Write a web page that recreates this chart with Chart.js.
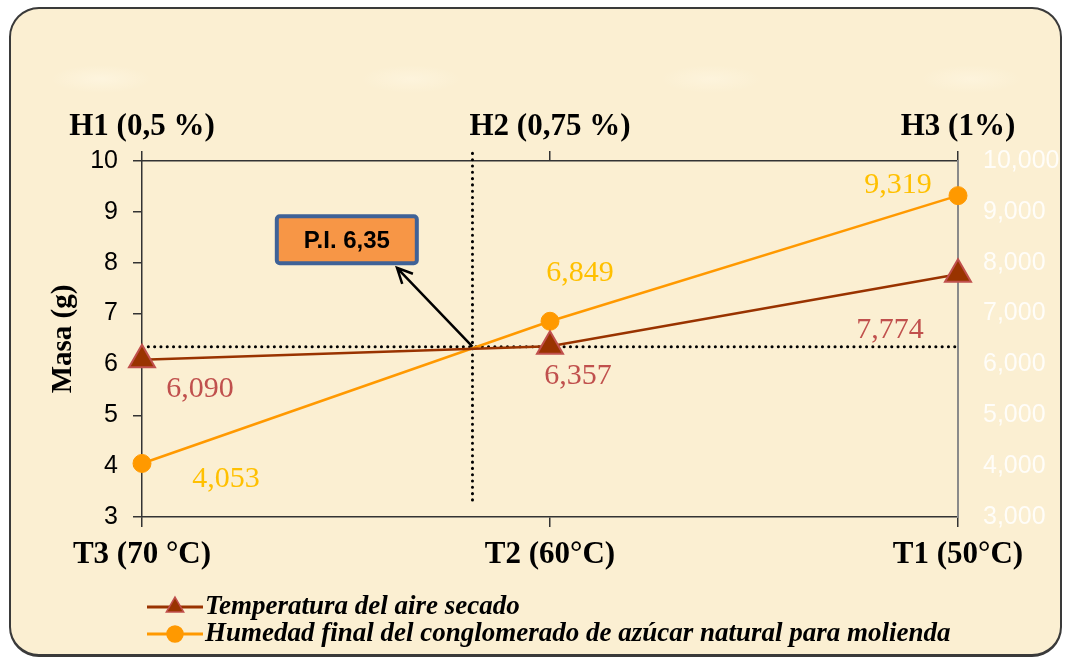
<!DOCTYPE html>
<html>
<head>
<meta charset="utf-8">
<script src="https://cdn.jsdelivr.net/npm/chart.js@4.4.1/dist/chart.umd.min.js"></script>
<style>
    html, body { margin: 0; padding: 0; background: #fff; }
    #wrap { position: relative; width: 1066px; height: 659px; }
    #frame {
        position: absolute; left: 9px; top: 7px; width: 1049px; height: 645px;
        border: 2px solid #3a3a3a; border-bottom-width: 3px; border-radius: 30px;
        background:
            radial-gradient(ellipse 50px 14px at 90px 70px, rgba(255,248,230,0.6), rgba(255,248,230,0)),
            radial-gradient(ellipse 50px 14px at 400px 70px, rgba(255,248,230,0.5), rgba(255,248,230,0)),
            radial-gradient(ellipse 50px 14px at 700px 70px, rgba(255,248,230,0.5), rgba(255,248,230,0)),
            radial-gradient(ellipse 50px 14px at 960px 70px, rgba(255,248,230,0.5), rgba(255,248,230,0)),
            #fbefd2;
    }
    #chartBox { position: absolute; left: 0; top: 0; width: 1066px; height: 659px; }
</style>
</head>
<body>
<div id="wrap">
    <div id="frame"></div>
    <div id="chartBox"><canvas id="grafico"></canvas></div>
</div>
<script>
// Datos del grafico
const categoriasTemp = ['T3 (70 °C)', 'T2 (60°C)', 'T1 (50°C)'];
const categoriasHum = ['H1 (0,5 %)', 'H2 (0,75 %)', 'H3 (1%)'];
const temperatura = [6.090, 6.357, 7.774];
const humedad = [4.053, 6.849, 9.319];
const masaMin = 3;
const masaMax = 10;
const puntoInterseccion = { x: 0.81, y: 6.35 };
const textoPI = 'P.I. 6,35';
const nombresSeries = [
    'Temperatura del aire secado',
    'Humedad final del conglomerado de azúcar natural para molienda'
];
const valoresSeries = [temperatura, humedad];

// Posiciones del cuadro de anotacion (en unidades de los ejes)
const cuadroPI = { x: 0.502, y: 8.45, w: 140, h: 47 };
const puntaFlecha = { x: 0.625, y: 7.9 };

// Desplazamiento de las etiquetas de valor (px)
const offsetsEtiquetas = [
    [[58, 29], [28, 30], [-68, 56]],
    [[84, 16], [30, -48], [-60, -11]]
];
const coloresEtiquetas = ['#c0504d', '#ffc000'];

const serif = '"Liberation Serif", "Times New Roman", serif';
const sans = '"Liberation Sans", Arial, sans-serif';

function formatoComa(v, dec) {
    return Number(v).toFixed(dec).replace('.', ',');
}

const lineasPI = {
    id: 'lineasPI',
    beforeDatasetsDraw(chart) {
        const { ctx, scales: { x, y } } = chart;
        const px = x.getPixelForValue(puntoInterseccion.x);
        const py = y.getPixelForValue(puntoInterseccion.y);
        ctx.save();
        ctx.strokeStyle = '#000';
        ctx.lineWidth = 3;
        ctx.lineCap = 'round';
        ctx.setLineDash([0.1, 6.2]);
        ctx.beginPath();
        ctx.moveTo(x.getPixelForValue(0), py);
        ctx.lineTo(x.getPixelForValue(2), py);
        ctx.moveTo(px, y.getPixelForValue(10.15));
        ctx.lineTo(px, y.getPixelForValue(3.25));
        ctx.stroke();
        ctx.restore();
    }
};

const anotacionPI = {
    id: 'anotacionPI',
    afterDatasetsDraw(chart) {
        const { ctx, scales: { x, y } } = chart;
        const x0 = x.getPixelForValue(puntoInterseccion.x);
        const y0 = y.getPixelForValue(puntoInterseccion.y);
        const x1 = x.getPixelForValue(puntaFlecha.x);
        const y1 = y.getPixelForValue(puntaFlecha.y);
        ctx.save();
        // flecha
        ctx.strokeStyle = '#000';
        ctx.lineWidth = 2.5;
        ctx.beginPath();
        ctx.moveTo(x0, y0);
        ctx.lineTo(x1, y1);
        const ang = Math.atan2(y0 - y1, x0 - x1);
        const len = 17;
        ctx.moveTo(x1 + len * Math.cos(ang + 0.45), y1 + len * Math.sin(ang + 0.45));
        ctx.lineTo(x1, y1);
        ctx.lineTo(x1 + len * Math.cos(ang - 0.45), y1 + len * Math.sin(ang - 0.45));
        ctx.stroke();
        // cuadro
        const cx = x.getPixelForValue(cuadroPI.x);
        const cy = y.getPixelForValue(cuadroPI.y);
        ctx.beginPath();
        if (ctx.roundRect) ctx.roundRect(cx - cuadroPI.w / 2, cy - cuadroPI.h / 2, cuadroPI.w, cuadroPI.h, 3);
        else ctx.rect(cx - cuadroPI.w / 2, cy - cuadroPI.h / 2, cuadroPI.w, cuadroPI.h);
        ctx.fillStyle = '#f79646';
        ctx.fill();
        ctx.lineWidth = 4;
        ctx.strokeStyle = '#3f6297';
        ctx.stroke();
        ctx.fillStyle = '#000';
        ctx.font = 'bold 24px ' + sans;
        ctx.textAlign = 'center';
        ctx.textBaseline = 'middle';
        ctx.fillText(textoPI, cx, cy + 2);
        ctx.restore();
    }
};

const etiquetasValor = {
    id: 'etiquetasValor',
    afterDatasetsDraw(chart) {
        const { ctx } = chart;
        ctx.save();
        ctx.font = '30px ' + serif;
        ctx.textAlign = 'center';
        ctx.textBaseline = 'middle';
        chart.data.datasets.forEach((ds, i) => {
            const meta = chart.getDatasetMeta(i);
            ctx.fillStyle = coloresEtiquetas[i];
            meta.data.forEach((pt, j) => {
                const [dx, dy] = offsetsEtiquetas[i][j];
                ctx.fillText(formatoComa(valoresSeries[i][j], 3), pt.x + dx, pt.y + dy);
            });
        });
        ctx.restore();
    }
};

const leyenda = {
    id: 'leyenda',
    afterDraw(chart) {
        const { ctx } = chart;
        ctx.save();
        chart.data.datasets.forEach((ds, i) => {
            const yy = 607 + i * 27;
            ctx.strokeStyle = ds.borderColor;
            ctx.lineWidth = 3;
            ctx.beginPath();
            ctx.moveTo(147, yy);
            ctx.lineTo(203, yy);
            ctx.stroke();
            ctx.fillStyle = ds.pointBackgroundColor;
            ctx.strokeStyle = ds.pointBorderColor;
            ctx.lineWidth = 1.5;
            Chart.helpers.drawPoint(ctx, {
                pointStyle: ds.pointStyle, rotation: 0,
                radius: i === 0 ? 10 : 8, borderWidth: 1.5
            }, 175, yy);
            ctx.fillStyle = '#000';
            ctx.font = 'italic bold 27px ' + serif;
            ctx.textAlign = 'left';
            ctx.textBaseline = 'middle';
            ctx.fillText(nombresSeries[i], 205, yy);
        });
        ctx.restore();
    }
};

const ejeX = {
    type: 'linear', min: 0, max: 2,
    grid: { drawOnChartArea: false, tickLength: 10, color: '#333', lineWidth: 1.5 },
    border: { color: '#333', width: 1.5 }
};

new Chart(document.getElementById('grafico'), {
    type: 'line',
    data: {
        datasets: [{
            label: nombresSeries[0],
            data: temperatura.map((v, i) => ({ x: i, y: v })),
            borderColor: '#993300',
            borderWidth: 2.5,
            pointStyle: 'triangle',
            pointRadius: 15,
            pointBackgroundColor: '#993300',
            pointBorderColor: '#c0504d',
            pointBorderWidth: 2,
            clip: false,
            xAxisID: 'x',
            yAxisID: 'y'
        }, {
            label: nombresSeries[1],
            data: humedad.map((v, i) => ({ x: i, y: v })),
            borderColor: '#ff9900',
            borderWidth: 2.5,
            pointStyle: 'circle',
            pointRadius: 9,
            pointBackgroundColor: '#ff9900',
            pointBorderColor: '#ff9900',
            pointBorderWidth: 1,
            clip: false,
            xAxisID: 'x',
            yAxisID: 'y2'
        }]
    },
    options: {
        responsive: true,
        maintainAspectRatio: false,
        animation: false,
        layout: { padding: 0 },
        plugins: { legend: { display: false }, tooltip: { enabled: false } },
        scales: {
            x: Object.assign({}, ejeX, {
                position: 'bottom',
                afterFit: s => { s.height = 142; },
                ticks: {
                    stepSize: 1, autoSkip: false, maxRotation: 0, padding: 9,
                    color: '#000', font: { family: serif, size: 31, weight: 'bold' },
                    callback: v => categoriasTemp[v]
                }
            }),
            xTop: Object.assign({}, ejeX, {
                position: 'top',
                afterFit: s => { s.height = 161; },
                ticks: {
                    stepSize: 1, autoSkip: false, maxRotation: 0, padding: 5,
                    color: '#000', font: { family: serif, size: 31, weight: 'bold' },
                    callback: v => categoriasHum[v]
                }
            }),
            y: {
                position: 'left', min: masaMin, max: masaMax,
                afterFit: s => { s.width = 142; },
                grid: { drawOnChartArea: false, tickLength: 9, color: '#333', lineWidth: 1.5 },
                border: { color: '#333', width: 1.5 },
                ticks: {
                    stepSize: 1, padding: 15, color: '#000',
                    font: { family: sans, size: 25 }
                },
                title: {
                    display: true, text: 'Masa (g)', color: '#000',
                    font: { family: serif, size: 29, weight: 'bold' },
                    padding: { top: 46, bottom: 0 }
                }
            },
            y2: {
                position: 'right', min: masaMin, max: masaMax,
                afterFit: s => { s.width = 108; },
                grid: { drawOnChartArea: false, drawTicks: false },
                border: { color: '#8a8a8a', width: 2 },
                ticks: {
                    stepSize: 1, padding: 25, color: 'rgba(255,255,255,0.85)',
                    font: { family: sans, size: 25 },
                    callback: v => formatoComa(v, 3)
                }
            }
        }
    },
    plugins: [lineasPI, anotacionPI, etiquetasValor, leyenda]
});
</script>
</body>
</html>
